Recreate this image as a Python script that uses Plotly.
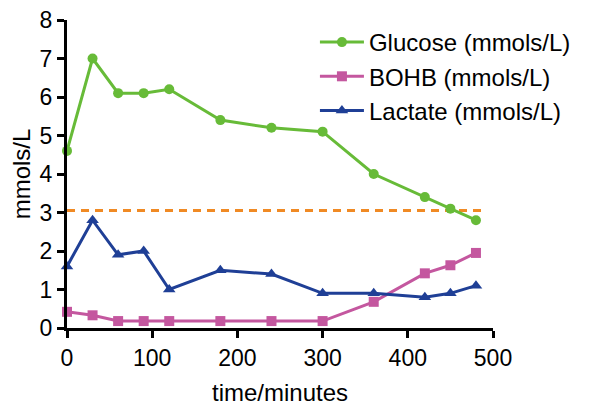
import plotly.graph_objects as go

time_min = [0, 30, 60, 90, 120, 180, 240, 300, 360, 420, 450, 480]
glucose = [4.6, 7.0, 6.1, 6.1, 6.2, 5.4, 5.2, 5.1, 4.0, 3.4, 3.1, 2.8]
bohb = [0.42, 0.33, 0.18, 0.18, 0.18, 0.18, 0.18, 0.18, 0.68, 1.42, 1.63, 1.95]
lactate = [1.6, 2.8, 1.9, 2.0, 1.0, 1.5, 1.4, 0.9, 0.9, 0.8, 0.9, 1.1]
threshold_x = [0, 490]
threshold_y = [3.05, 3.05]

x_ticks = [0, 100, 200, 300, 400, 500]
y_ticks = [0, 1, 2, 3, 4, 5, 6, 7, 8]

GREEN = "#67bb38"
PINK = "#c4579f"
BLUE = "#1f3f96"
ORANGE = "#f08a24"

FAMILY = "Liberation Sans, Arial, sans-serif"

fig = go.Figure()
fig.add_trace(go.Scatter(x=threshold_x, y=threshold_y, mode="lines",
                         line=dict(color=ORANGE, width=3, dash="8px,6px"),
                         showlegend=False, hoverinfo="skip", cliponaxis=False))
fig.add_trace(go.Scatter(x=time_min, y=glucose, mode="lines+markers", name="Glucose (mmols/L)",
                         line=dict(color=GREEN, width=3),
                         marker=dict(symbol="circle", size=10, color=GREEN),
                         legendgroup="g", cliponaxis=False))
fig.add_trace(go.Scatter(x=time_min, y=bohb, mode="lines+markers", name="BOHB (mmols/L)",
                         line=dict(color=PINK, width=3),
                         marker=dict(symbol="square", size=10, color=PINK),
                         legendgroup="b", cliponaxis=False))
fig.add_trace(go.Scatter(x=time_min, y=lactate, mode="lines+markers", name="Lactate (mmols/L)",
                         line=dict(color=BLUE, width=3),
                         marker=dict(symbol="triangle-up", size=11, color=BLUE),
                         legendgroup="l", cliponaxis=False))

tick_font = dict(family=FAMILY, size=23, color="black")
title_font = dict(family=FAMILY, size=24, color="black")

# the page body adds an 8px offset, so the figure is 8px smaller on each axis
fig.update_layout(
    width=585, height=398,
    margin=dict(l=59, r=100, t=12, b=78, autoexpand=False),
    plot_bgcolor="white", paper_bgcolor="white",
    font=tick_font,
    legend=dict(x=0.582, y=1.0, xanchor="left", yanchor="top",
                font=dict(family=FAMILY, size=24, color="black"),
                itemwidth=44, tracegroupgap=11,
                bgcolor="rgba(0,0,0,0)", traceorder="normal"),
    xaxis=dict(range=[0, 500], tickvals=x_ticks, showgrid=False, zeroline=False,
               showline=True, linecolor="black", linewidth=3,
               ticks="outside", ticklen=7, tickwidth=3, tickcolor="black",
               tickfont=tick_font, automargin=False, ticklabeloverflow="allow",
               title=dict(text="time/minutes", font=title_font, standoff=16)),
    yaxis=dict(range=[0, 8], tickvals=y_ticks, showgrid=False, zeroline=False,
               showline=True, linecolor="black", linewidth=3,
               ticks="outside", ticklen=7, tickwidth=3, tickcolor="black",
               tickfont=tick_font, automargin=False, ticklabeloverflow="allow",
               title=dict(text="mmols/L", font=title_font, standoff=11)),
)

fig.write_html("out.html")
